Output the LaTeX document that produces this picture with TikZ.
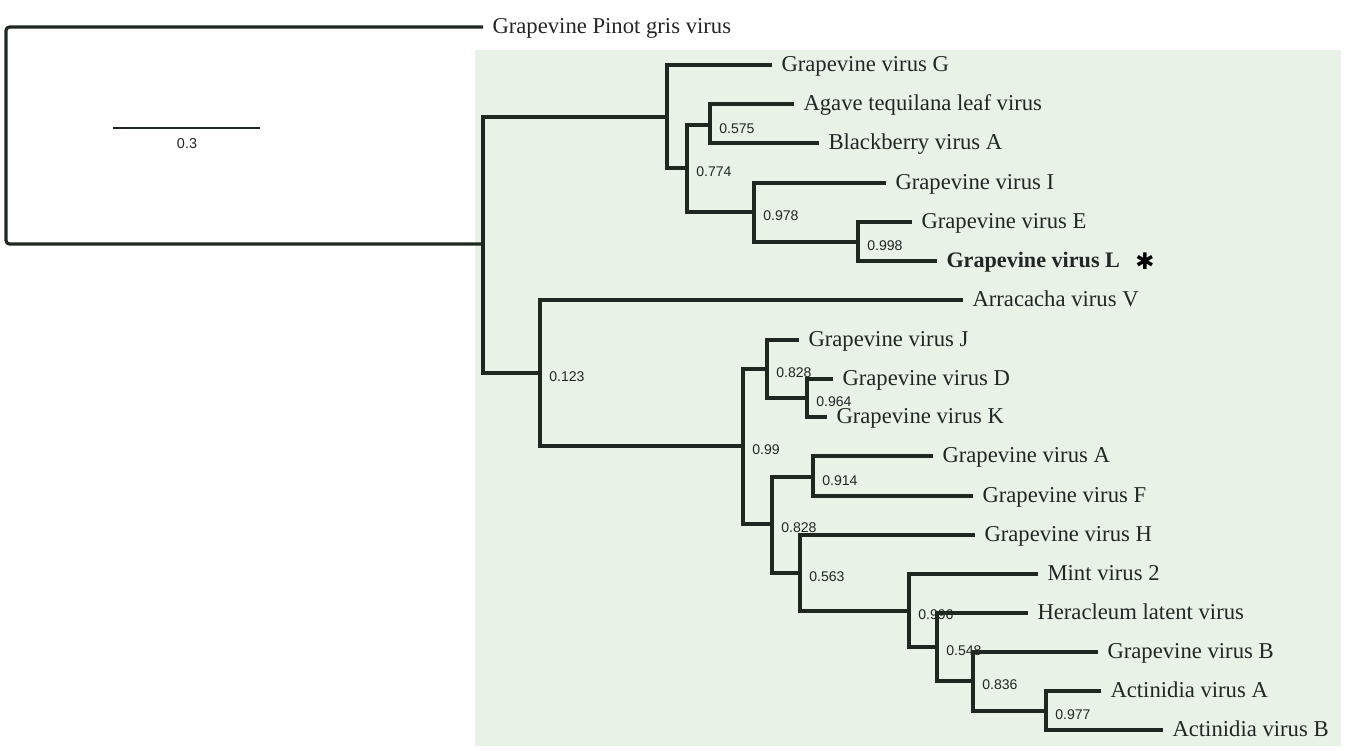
\documentclass[tikz,border=0pt]{standalone}
\usepackage{fontspec}
\setmainfont{Liberation Serif}
\newfontfamily\numfont{Liberation Sans}
\newfontfamily\symfont{DejaVu Sans}
\definecolor{branchcol}{RGB}{30,40,32}
\definecolor{cladebg}{RGB}{232,242,231}
\definecolor{labeltext}{RGB}{35,38,36}

\begin{document}
\begin{tikzpicture}[x=0.02cm, y=-0.02cm,
    branch/.style={line width=1.8pt, draw=branchcol},
    leaf/.style={anchor=west, inner xsep=0.19cm, inner ysep=0pt, outer sep=0pt,
      text height=10pt, text depth=2.4pt, text=labeltext,
      font=\fontsize{12.9}{15}\selectfont},
    bs/.style={anchor=west, inner sep=0pt, xshift=0.18cm, yshift=-0.08cm,
      text=labeltext, font=\numfont\fontsize{8}{9.6}\selectfont}]
        \useasboundingbox (0,0) rectangle (1354,750);
        \fill[cladebg] (475,50) rectangle (1341,746);

        % Internal nodes
        \coordinate (root) at (6,135);
        \coordinate (n0) at (483,244);
        \coordinate (nA) at (667,117);
        \coordinate (nB) at (687,168);
        \coordinate (nC) at (710,125);
        \coordinate (nD) at (754,212);
        \coordinate (nE) at (858,242);
        \coordinate (nF) at (540,373);
        \coordinate (nG) at (743,446);
        \coordinate (nH) at (767,369);
        \coordinate (nI) at (807,398);
        \coordinate (nJ) at (772,524);
        \coordinate (nK) at (813,477);
        \coordinate (nL) at (800,573);
        \coordinate (nM) at (909,611);
        \coordinate (nN) at (937,647);
        \coordinate (nO) at (973,681);
        \coordinate (nP) at (1046,711);

        % Leaves
        \node (gpgv) [leaf] at (483,27) {Grapevine Pinot gris virus};
        \node (gvg) [leaf] at (772,65) {Grapevine virus G};
        \node (atlv) [leaf] at (794,104) {Agave tequilana leaf virus};
        \node (bva) [leaf] at (819,143) {Blackberry virus A};
        \node (gvi) [leaf] at (886,183) {Grapevine virus I};
        \node (gve) [leaf] at (912,222) {Grapevine virus E};
        \node (gvl) [leaf, font=\fontsize{12.6}{15}\selectfont\bfseries] at (937,261) {Grapevine virus L};
        \node (mark) at (1145,261) {\symfont\fontsize{13}{15}\selectfont ✱};
        \node (avv) [leaf] at (963,300) {Arracacha virus V};
        \node (gvj) [leaf] at (799,340) {Grapevine virus J};
        \node (gvd) [leaf] at (833,379) {Grapevine virus D};
        \node (gvk) [leaf] at (827,417) {Grapevine virus K};
        \node (gva) [leaf] at (933,456) {Grapevine virus A};
        \node (gvf) [leaf] at (973,496) {Grapevine virus F};
        \node (gvh) [leaf] at (975,535) {Grapevine virus H};
        \node (mv2) [leaf] at (1038,574) {Mint virus 2};
        \node (hlv) [leaf] at (1028,613) {Heracleum latent virus};
        \node (gvb) [leaf] at (1098,652) {Grapevine virus B};
        \node (acva) [leaf] at (1101,691) {Actinidia virus A};
        \node (acvb) [leaf] at (1163,730) {Actinidia virus B};

        % Support values
        \node (bC) [bs] at (nC) {0.575};
        \node (bB) [bs] at (nB) {0.774};
        \node (bD) [bs] at (nD) {0.978};
        \node (bE) [bs] at (nE) {0.998};
        \node (bF) [bs] at (nF) {0.123};
        \node (bH) [bs] at (nH) {0.828};
        \node (bI) [bs] at (nI) {0.964};
        \node (bG) [bs] at (nG) {0.99};
        \node (bK) [bs] at (nK) {0.914};
        \node (bJ) [bs] at (nJ) {0.828};
        \node (bL) [bs] at (nL) {0.563};
        \node (bM) [bs] at (nM) {0.996};
        \node (bN) [bs] at (nN) {0.548};
        \node (bO) [bs] at (nO) {0.836};
        \node (bP) [bs] at (nP) {0.977};

        % Scale bar
        \coordinate (sbl) at (113,128);
        \coordinate (sbr) at (260,128);
        \node (sblab) [text=labeltext, font=\numfont\fontsize{8.2}{9.8}\selectfont] at (187,144) {0.3};
        \draw[line width=1.2pt, draw=branchcol] (sbl) -- (sbr);

        % Edges
        \draw[branch, rounded corners=2pt] (root) |- (gpgv);
        \draw[branch, rounded corners=2pt] (root) |- (n0);
        \draw[branch] (n0) |- (nA);
        \draw[branch] (n0) |- (nF);
        \draw[branch] (nA) |- (gvg);
        \draw[branch] (nA) |- (nB);
        \draw[branch] (nB) |- (nC);
        \draw[branch] (nB) |- (nD);
        \draw[branch] (nC) |- (atlv);
        \draw[branch] (nC) |- (bva);
        \draw[branch] (nD) |- (gvi);
        \draw[branch] (nD) |- (nE);
        \draw[branch] (nE) |- (gve);
        \draw[branch] (nE) |- (gvl);
        \draw[branch] (nF) |- (avv);
        \draw[branch] (nF) |- (nG);
        \draw[branch] (nG) |- (nH);
        \draw[branch] (nG) |- (nJ);
        \draw[branch] (nH) |- (gvj);
        \draw[branch] (nH) |- (nI);
        \draw[branch] (nI) |- (gvd);
        \draw[branch] (nI) |- (gvk);
        \draw[branch] (nJ) |- (nK);
        \draw[branch] (nJ) |- (nL);
        \draw[branch] (nK) |- (gva);
        \draw[branch] (nK) |- (gvf);
        \draw[branch] (nL) |- (gvh);
        \draw[branch] (nL) |- (nM);
        \draw[branch] (nM) |- (mv2);
        \draw[branch] (nM) |- (nN);
        \draw[branch] (nN) |- (hlv);
        \draw[branch] (nN) |- (nO);
        \draw[branch] (nO) |- (gvb);
        \draw[branch] (nO) |- (nP);
        \draw[branch] (nP) |- (acva);
        \draw[branch] (nP) |- (acvb);
    \end{tikzpicture}
\end{document}
